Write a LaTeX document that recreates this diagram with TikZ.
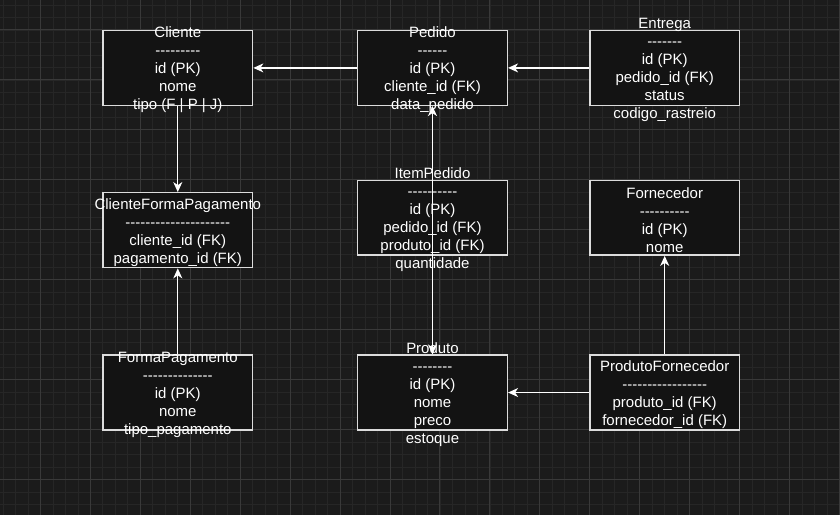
\documentclass[tikz,border=0pt]{standalone}
\usepackage{fontspec}
\setmainfont{Liberation Sans}[Ligatures=TeXOff]
\usepackage{xcolor}
\usepackage{tikz}
\usetikzlibrary{arrows.meta}
\definecolor{fundo}{HTML}{1B1B1B}
\definecolor{caixa}{HTML}{131313}
\definecolor{borda}{HTML}{DCDCDC}
\definecolor{menor}{HTML}{262626}
\definecolor{maior}{HTML}{393939}
\tikzset{
    grademenor/.style = {menor, line width=0.8pt},
    grademaior/.style = {maior, line width=1pt},
    tabela/.style = {rectangle, draw=borda, fill=caixa, line width=1.4pt, minimum width=150pt, minimum height=75pt, inner sep=0pt},
    rotulo/.style = {align=center, inner sep=0pt, text=white, yshift=-2pt, font=\fontsize{15}{18}\selectfont},
    seta/.style = {->, white, line width=1.3pt}
}

\begin{document}
\begin{tikzpicture}
            [x=1pt, y=-1pt,
            >={Stealth[length=10pt, width=9pt, inset=3pt]}]

            % fundo e grade
            \fill[fundo] (0,0) rectangle (840,515);
            \foreach \x in {2.5,15,...,840} \draw[grademenor] (\x,0) -- (\x,515);
            \foreach \y in {4.5,17,...,515} \draw[grademenor] (0,\y) -- (840,\y);
            \foreach \x in {40,90,...,840} \draw[grademaior] (\x,0) -- (\x,515);
            \foreach \y in {29.5,79.5,...,515} \draw[grademaior] (0,\y) -- (840,\y);
            \useasboundingbox (0,0) rectangle (840,515);

            % tabelas
            \node [tabela] (cliente) at (177.5,67.5) {};
            \node [tabela] (pedido) at (432.5,67.5) {};
            \node [tabela] (entrega) at (665,67.5) {};
            \node [tabela] (clienteforma) at (177.5,230) {};
            \node [tabela] (itempedido) at (432.5,217.5) {};
            \node [tabela] (fornecedor) at (665,217.5) {};
            \node [tabela] (formapag) at (177.5,392.5) {};
            \node [tabela] (produto) at (432.5,392.5) {};
            \node [tabela] (produtoforn) at (665,392.5) {};

            % textos
            \node [rotulo] (cliente-txt) at (cliente) {Cliente\\---------\\id (PK)\\nome\\tipo (F | P | J)};
            \node [rotulo] (pedido-txt) at (pedido) {Pedido\\------\\id (PK)\\cliente\_id (FK)\\data\_pedido};
            \node [rotulo] (entrega-txt) at (entrega) {Entrega\\-------\\id (PK)\\pedido\_id (FK)\\status\\codigo\_rastreio};
            \node [rotulo] (clienteforma-txt) at (clienteforma) {ClienteFormaPagamento\\---------------------\\cliente\_id (FK)\\pagamento\_id (FK)};
            \node [rotulo] (itempedido-txt) at (itempedido) {ItemPedido\\----------\\id (PK)\\pedido\_id (FK)\\produto\_id (FK)\\quantidade};
            \node [rotulo] (fornecedor-txt) at (fornecedor) {Fornecedor\\----------\\id (PK)\\nome};
            \node [rotulo] (formapag-txt) at (formapag) {FormaPagamento\\--------------\\id (PK)\\nome\\tipo\_pagamento};
            \node [rotulo] (produto-txt) at (produto) {Produto\\--------\\id (PK)\\nome\\preco\\estoque};
            \node [rotulo] (produtoforn-txt) at (produtoforn) {ProdutoFornecedor\\-----------------\\produto\_id (FK)\\fornecedor\_id (FK)};

            % relacionamentos
            \draw [seta] (pedido.west) -- (cliente.east);
            \draw [seta] (entrega.west) -- (pedido.east);
            \draw [seta] (cliente.south) -- (clienteforma.north);
            \draw [seta] (formapag.north) -- (clienteforma.south);
            \draw [seta] (itempedido.center) -- (pedido.south);
            \draw [seta] (itempedido.center) -- (produto.north);
            \draw [seta] (produtoforn.north) -- (fornecedor.south);
            \draw [seta] (produtoforn.west) -- (produto.east);
        \end{tikzpicture}
\end{document}
